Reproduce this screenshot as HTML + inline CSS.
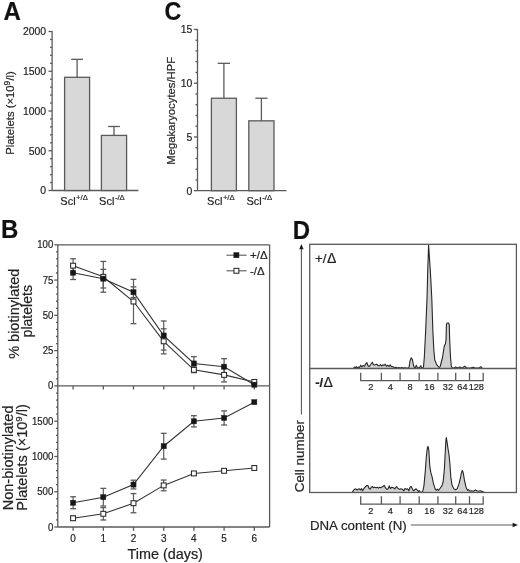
<!DOCTYPE html>
<html><head><meta charset="utf-8"><style>
html,body{margin:0;padding:0;background:#fff;}
svg{display:block;font-family:"Liberation Sans",sans-serif;filter:blur(0.3px);}
text{stroke:#2a2a2a;stroke-width:0.2px;}
</style></head><body>
<svg width="520" height="563" viewBox="0 0 520 563">
<rect width="520" height="563" fill="#fff"/>
<text transform="translate(3.50,20.10) scale(1.0,1.06)" font-size="24" text-anchor="start" font-weight="bold" fill="#111">A</text>
<line x1="52.10" y1="30.90" x2="52.10" y2="190.50" stroke="#5a5a5a" stroke-width="1.3"/>
<line x1="52.10" y1="190.50" x2="138.40" y2="190.50" stroke="#5a5a5a" stroke-width="1.3"/>
<line x1="48.50" y1="190.50" x2="52.10" y2="190.50" stroke="#5a5a5a" stroke-width="1.3"/>
<text transform="translate(46.10,194.40) scale(0.95,1.07)" font-size="11" text-anchor="end" font-weight="normal" fill="#222">0</text>
<line x1="50.10" y1="182.55" x2="52.10" y2="182.55" stroke="#5a5a5a" stroke-width="1.3"/>
<line x1="50.10" y1="174.60" x2="52.10" y2="174.60" stroke="#5a5a5a" stroke-width="1.3"/>
<line x1="50.10" y1="166.65" x2="52.10" y2="166.65" stroke="#5a5a5a" stroke-width="1.3"/>
<line x1="50.10" y1="158.70" x2="52.10" y2="158.70" stroke="#5a5a5a" stroke-width="1.3"/>
<line x1="48.50" y1="150.75" x2="52.10" y2="150.75" stroke="#5a5a5a" stroke-width="1.3"/>
<text transform="translate(46.10,154.65) scale(0.95,1.07)" font-size="11" text-anchor="end" font-weight="normal" fill="#222">500</text>
<line x1="50.10" y1="142.80" x2="52.10" y2="142.80" stroke="#5a5a5a" stroke-width="1.3"/>
<line x1="50.10" y1="134.85" x2="52.10" y2="134.85" stroke="#5a5a5a" stroke-width="1.3"/>
<line x1="50.10" y1="126.90" x2="52.10" y2="126.90" stroke="#5a5a5a" stroke-width="1.3"/>
<line x1="50.10" y1="118.95" x2="52.10" y2="118.95" stroke="#5a5a5a" stroke-width="1.3"/>
<line x1="48.50" y1="111.00" x2="52.10" y2="111.00" stroke="#5a5a5a" stroke-width="1.3"/>
<text transform="translate(46.10,114.90) scale(0.95,1.07)" font-size="11" text-anchor="end" font-weight="normal" fill="#222">1000</text>
<line x1="50.10" y1="103.05" x2="52.10" y2="103.05" stroke="#5a5a5a" stroke-width="1.3"/>
<line x1="50.10" y1="95.10" x2="52.10" y2="95.10" stroke="#5a5a5a" stroke-width="1.3"/>
<line x1="50.10" y1="87.15" x2="52.10" y2="87.15" stroke="#5a5a5a" stroke-width="1.3"/>
<line x1="50.10" y1="79.20" x2="52.10" y2="79.20" stroke="#5a5a5a" stroke-width="1.3"/>
<line x1="48.50" y1="71.25" x2="52.10" y2="71.25" stroke="#5a5a5a" stroke-width="1.3"/>
<text transform="translate(46.10,75.15) scale(0.95,1.07)" font-size="11" text-anchor="end" font-weight="normal" fill="#222">1500</text>
<line x1="50.10" y1="63.30" x2="52.10" y2="63.30" stroke="#5a5a5a" stroke-width="1.3"/>
<line x1="50.10" y1="55.35" x2="52.10" y2="55.35" stroke="#5a5a5a" stroke-width="1.3"/>
<line x1="50.10" y1="47.40" x2="52.10" y2="47.40" stroke="#5a5a5a" stroke-width="1.3"/>
<line x1="50.10" y1="39.45" x2="52.10" y2="39.45" stroke="#5a5a5a" stroke-width="1.3"/>
<line x1="48.50" y1="31.50" x2="52.10" y2="31.50" stroke="#5a5a5a" stroke-width="1.3"/>
<text transform="translate(46.10,35.40) scale(0.95,1.07)" font-size="11" text-anchor="end" font-weight="normal" fill="#222">2000</text>
<line x1="77.10" y1="77.29" x2="77.10" y2="59.32" stroke="#5a5a5a" stroke-width="1.3"/>
<line x1="71.20" y1="59.32" x2="83.00" y2="59.32" stroke="#5a5a5a" stroke-width="1.3"/>
<rect x="64.60" y="77.29" width="25.00" height="113.21" fill="#d8d8d8" stroke="#5a5a5a" stroke-width="1.3"/>
<line x1="114.00" y1="135.41" x2="114.00" y2="126.50" stroke="#5a5a5a" stroke-width="1.3"/>
<line x1="108.10" y1="126.50" x2="119.90" y2="126.50" stroke="#5a5a5a" stroke-width="1.3"/>
<rect x="101.40" y="135.41" width="25.20" height="55.09" fill="#d8d8d8" stroke="#5a5a5a" stroke-width="1.3"/>
<text transform="translate(14.0,113) rotate(-90)" font-size="11.3" text-anchor="middle" fill="#222">Platelets (×10<tspan font-size="8.5" dy="-3.8">9</tspan><tspan dy="3.8">/l)</tspan></text>
<text x="60.30" y="204.6" font-size="11" fill="#222">Scl<tspan font-size="7.7" dx="0.5" dy="-4.6">+/Δ</tspan></text>
<text x="99.10" y="204.6" font-size="11" fill="#222">Scl<tspan font-size="7.7" dx="0.5" dy="-4.6">-/Δ</tspan></text>
<text transform="translate(164.40,19.90) scale(0.97,1.06)" font-size="24" text-anchor="start" font-weight="bold" fill="#111">C</text>
<line x1="197.50" y1="28.85" x2="197.50" y2="190.70" stroke="#5a5a5a" stroke-width="1.3"/>
<line x1="197.50" y1="190.70" x2="286.50" y2="190.70" stroke="#5a5a5a" stroke-width="1.3"/>
<line x1="193.90" y1="190.70" x2="197.50" y2="190.70" stroke="#5a5a5a" stroke-width="1.3"/>
<text transform="translate(192.40,194.60) scale(0.95,1.07)" font-size="11" text-anchor="end" font-weight="normal" fill="#222">0</text>
<line x1="195.50" y1="179.95" x2="197.50" y2="179.95" stroke="#5a5a5a" stroke-width="1.3"/>
<line x1="195.50" y1="169.20" x2="197.50" y2="169.20" stroke="#5a5a5a" stroke-width="1.3"/>
<line x1="195.50" y1="158.45" x2="197.50" y2="158.45" stroke="#5a5a5a" stroke-width="1.3"/>
<line x1="195.50" y1="147.70" x2="197.50" y2="147.70" stroke="#5a5a5a" stroke-width="1.3"/>
<line x1="193.90" y1="136.95" x2="197.50" y2="136.95" stroke="#5a5a5a" stroke-width="1.3"/>
<text transform="translate(192.40,140.85) scale(0.95,1.07)" font-size="11" text-anchor="end" font-weight="normal" fill="#222">5</text>
<line x1="195.50" y1="126.20" x2="197.50" y2="126.20" stroke="#5a5a5a" stroke-width="1.3"/>
<line x1="195.50" y1="115.45" x2="197.50" y2="115.45" stroke="#5a5a5a" stroke-width="1.3"/>
<line x1="195.50" y1="104.70" x2="197.50" y2="104.70" stroke="#5a5a5a" stroke-width="1.3"/>
<line x1="195.50" y1="93.95" x2="197.50" y2="93.95" stroke="#5a5a5a" stroke-width="1.3"/>
<line x1="193.90" y1="83.20" x2="197.50" y2="83.20" stroke="#5a5a5a" stroke-width="1.3"/>
<text transform="translate(192.40,87.10) scale(0.95,1.07)" font-size="11" text-anchor="end" font-weight="normal" fill="#222">10</text>
<line x1="195.50" y1="72.45" x2="197.50" y2="72.45" stroke="#5a5a5a" stroke-width="1.3"/>
<line x1="195.50" y1="61.70" x2="197.50" y2="61.70" stroke="#5a5a5a" stroke-width="1.3"/>
<line x1="195.50" y1="50.95" x2="197.50" y2="50.95" stroke="#5a5a5a" stroke-width="1.3"/>
<line x1="195.50" y1="40.20" x2="197.50" y2="40.20" stroke="#5a5a5a" stroke-width="1.3"/>
<line x1="193.90" y1="29.45" x2="197.50" y2="29.45" stroke="#5a5a5a" stroke-width="1.3"/>
<text transform="translate(192.40,33.35) scale(0.95,1.07)" font-size="11" text-anchor="end" font-weight="normal" fill="#222">15</text>
<line x1="223.90" y1="98.25" x2="223.90" y2="63.31" stroke="#5a5a5a" stroke-width="1.3"/>
<line x1="217.70" y1="63.31" x2="230.10" y2="63.31" stroke="#5a5a5a" stroke-width="1.3"/>
<rect x="211.40" y="98.25" width="25.00" height="92.45" fill="#d8d8d8" stroke="#5a5a5a" stroke-width="1.3"/>
<line x1="261.40" y1="120.82" x2="261.40" y2="98.25" stroke="#5a5a5a" stroke-width="1.3"/>
<line x1="255.30" y1="98.25" x2="267.50" y2="98.25" stroke="#5a5a5a" stroke-width="1.3"/>
<rect x="248.80" y="120.82" width="25.20" height="69.88" fill="#d8d8d8" stroke="#5a5a5a" stroke-width="1.3"/>
<text transform="translate(175.3,110.8) rotate(-90)" font-size="11.3" text-anchor="middle" fill="#222">Megakaryocytes/HPF</text>
<text x="207.10" y="204.6" font-size="11" fill="#222">Scl<tspan font-size="7.7" dx="0.5" dy="-4.6">+/Δ</tspan></text>
<text x="246.50" y="204.6" font-size="11" fill="#222">Scl<tspan font-size="7.7" dx="0.5" dy="-4.6">-/Δ</tspan></text>
<text transform="translate(0.90,238.40) scale(1.0,1.07)" font-size="24" text-anchor="start" font-weight="bold" fill="#111">B</text>
<line x1="57.80" y1="244.80" x2="269.60" y2="244.80" stroke="#5a5a5a" stroke-width="1.3"/>
<line x1="269.60" y1="244.80" x2="269.60" y2="527.00" stroke="#5a5a5a" stroke-width="1.3"/>
<line x1="57.80" y1="244.80" x2="57.80" y2="527.00" stroke="#5a5a5a" stroke-width="1.3"/>
<line x1="57.80" y1="385.90" x2="269.60" y2="385.90" stroke="#5a5a5a" stroke-width="1.3"/>
<line x1="57.80" y1="527.00" x2="269.60" y2="527.00" stroke="#5a5a5a" stroke-width="1.3"/>
<line x1="54.30" y1="385.90" x2="57.80" y2="385.90" stroke="#5a5a5a" stroke-width="1.3"/>
<text transform="translate(53.30,389.40) scale(1.0,1.1)" font-size="9.6" text-anchor="end" font-weight="normal" fill="#222">0</text>
<line x1="56.00" y1="378.84" x2="57.80" y2="378.84" stroke="#5a5a5a" stroke-width="1.3"/>
<line x1="56.00" y1="371.79" x2="57.80" y2="371.79" stroke="#5a5a5a" stroke-width="1.3"/>
<line x1="56.00" y1="364.74" x2="57.80" y2="364.74" stroke="#5a5a5a" stroke-width="1.3"/>
<line x1="56.00" y1="357.68" x2="57.80" y2="357.68" stroke="#5a5a5a" stroke-width="1.3"/>
<line x1="54.30" y1="350.62" x2="57.80" y2="350.62" stroke="#5a5a5a" stroke-width="1.3"/>
<text transform="translate(53.30,354.12) scale(1.0,1.1)" font-size="9.6" text-anchor="end" font-weight="normal" fill="#222">25</text>
<line x1="56.00" y1="343.57" x2="57.80" y2="343.57" stroke="#5a5a5a" stroke-width="1.3"/>
<line x1="56.00" y1="336.51" x2="57.80" y2="336.51" stroke="#5a5a5a" stroke-width="1.3"/>
<line x1="56.00" y1="329.46" x2="57.80" y2="329.46" stroke="#5a5a5a" stroke-width="1.3"/>
<line x1="56.00" y1="322.40" x2="57.80" y2="322.40" stroke="#5a5a5a" stroke-width="1.3"/>
<line x1="54.30" y1="315.35" x2="57.80" y2="315.35" stroke="#5a5a5a" stroke-width="1.3"/>
<text transform="translate(53.30,318.85) scale(1.0,1.1)" font-size="9.6" text-anchor="end" font-weight="normal" fill="#222">50</text>
<line x1="56.00" y1="308.30" x2="57.80" y2="308.30" stroke="#5a5a5a" stroke-width="1.3"/>
<line x1="56.00" y1="301.24" x2="57.80" y2="301.24" stroke="#5a5a5a" stroke-width="1.3"/>
<line x1="56.00" y1="294.19" x2="57.80" y2="294.19" stroke="#5a5a5a" stroke-width="1.3"/>
<line x1="56.00" y1="287.13" x2="57.80" y2="287.13" stroke="#5a5a5a" stroke-width="1.3"/>
<line x1="54.30" y1="280.07" x2="57.80" y2="280.07" stroke="#5a5a5a" stroke-width="1.3"/>
<text transform="translate(53.30,283.57) scale(1.0,1.1)" font-size="9.6" text-anchor="end" font-weight="normal" fill="#222">75</text>
<line x1="56.00" y1="273.02" x2="57.80" y2="273.02" stroke="#5a5a5a" stroke-width="1.3"/>
<line x1="56.00" y1="265.97" x2="57.80" y2="265.97" stroke="#5a5a5a" stroke-width="1.3"/>
<line x1="56.00" y1="258.91" x2="57.80" y2="258.91" stroke="#5a5a5a" stroke-width="1.3"/>
<line x1="56.00" y1="251.86" x2="57.80" y2="251.86" stroke="#5a5a5a" stroke-width="1.3"/>
<line x1="54.30" y1="244.80" x2="57.80" y2="244.80" stroke="#5a5a5a" stroke-width="1.3"/>
<text transform="translate(53.30,248.30) scale(1.0,1.1)" font-size="9.6" text-anchor="end" font-weight="normal" fill="#222">100</text>
<line x1="54.30" y1="527.00" x2="57.80" y2="527.00" stroke="#5a5a5a" stroke-width="1.3"/>
<text transform="translate(53.30,530.50) scale(1.0,1.1)" font-size="9.6" text-anchor="end" font-weight="normal" fill="#222">0</text>
<line x1="56.00" y1="519.95" x2="57.80" y2="519.95" stroke="#5a5a5a" stroke-width="1.3"/>
<line x1="56.00" y1="512.90" x2="57.80" y2="512.90" stroke="#5a5a5a" stroke-width="1.3"/>
<line x1="56.00" y1="505.85" x2="57.80" y2="505.85" stroke="#5a5a5a" stroke-width="1.3"/>
<line x1="56.00" y1="498.80" x2="57.80" y2="498.80" stroke="#5a5a5a" stroke-width="1.3"/>
<line x1="54.30" y1="491.75" x2="57.80" y2="491.75" stroke="#5a5a5a" stroke-width="1.3"/>
<text transform="translate(53.30,495.25) scale(1.0,1.1)" font-size="9.6" text-anchor="end" font-weight="normal" fill="#222">500</text>
<line x1="56.00" y1="484.70" x2="57.80" y2="484.70" stroke="#5a5a5a" stroke-width="1.3"/>
<line x1="56.00" y1="477.65" x2="57.80" y2="477.65" stroke="#5a5a5a" stroke-width="1.3"/>
<line x1="56.00" y1="470.60" x2="57.80" y2="470.60" stroke="#5a5a5a" stroke-width="1.3"/>
<line x1="56.00" y1="463.55" x2="57.80" y2="463.55" stroke="#5a5a5a" stroke-width="1.3"/>
<line x1="54.30" y1="456.50" x2="57.80" y2="456.50" stroke="#5a5a5a" stroke-width="1.3"/>
<text transform="translate(53.30,460.00) scale(1.0,1.1)" font-size="9.6" text-anchor="end" font-weight="normal" fill="#222">1000</text>
<line x1="56.00" y1="449.45" x2="57.80" y2="449.45" stroke="#5a5a5a" stroke-width="1.3"/>
<line x1="56.00" y1="442.40" x2="57.80" y2="442.40" stroke="#5a5a5a" stroke-width="1.3"/>
<line x1="56.00" y1="435.35" x2="57.80" y2="435.35" stroke="#5a5a5a" stroke-width="1.3"/>
<line x1="56.00" y1="428.30" x2="57.80" y2="428.30" stroke="#5a5a5a" stroke-width="1.3"/>
<line x1="54.30" y1="421.25" x2="57.80" y2="421.25" stroke="#5a5a5a" stroke-width="1.3"/>
<text transform="translate(53.30,424.75) scale(1.0,1.1)" font-size="9.6" text-anchor="end" font-weight="normal" fill="#222">1500</text>
<line x1="56.00" y1="414.20" x2="57.80" y2="414.20" stroke="#5a5a5a" stroke-width="1.3"/>
<line x1="56.00" y1="407.15" x2="57.80" y2="407.15" stroke="#5a5a5a" stroke-width="1.3"/>
<line x1="56.00" y1="400.10" x2="57.80" y2="400.10" stroke="#5a5a5a" stroke-width="1.3"/>
<line x1="56.00" y1="393.05" x2="57.80" y2="393.05" stroke="#5a5a5a" stroke-width="1.3"/>
<line x1="73.10" y1="385.90" x2="73.10" y2="389.50" stroke="#5a5a5a" stroke-width="1.3"/>
<line x1="73.10" y1="527.00" x2="73.10" y2="530.80" stroke="#5a5a5a" stroke-width="1.3"/>
<text x="73.10" y="541.60" font-size="10" text-anchor="middle" font-weight="normal" fill="#222" >0</text>
<line x1="103.30" y1="385.90" x2="103.30" y2="389.50" stroke="#5a5a5a" stroke-width="1.3"/>
<line x1="103.30" y1="527.00" x2="103.30" y2="530.80" stroke="#5a5a5a" stroke-width="1.3"/>
<text x="103.30" y="541.60" font-size="10" text-anchor="middle" font-weight="normal" fill="#222" >1</text>
<line x1="133.50" y1="385.90" x2="133.50" y2="389.50" stroke="#5a5a5a" stroke-width="1.3"/>
<line x1="133.50" y1="527.00" x2="133.50" y2="530.80" stroke="#5a5a5a" stroke-width="1.3"/>
<text x="133.50" y="541.60" font-size="10" text-anchor="middle" font-weight="normal" fill="#222" >2</text>
<line x1="163.70" y1="385.90" x2="163.70" y2="389.50" stroke="#5a5a5a" stroke-width="1.3"/>
<line x1="163.70" y1="527.00" x2="163.70" y2="530.80" stroke="#5a5a5a" stroke-width="1.3"/>
<text x="163.70" y="541.60" font-size="10" text-anchor="middle" font-weight="normal" fill="#222" >3</text>
<line x1="193.90" y1="385.90" x2="193.90" y2="389.50" stroke="#5a5a5a" stroke-width="1.3"/>
<line x1="193.90" y1="527.00" x2="193.90" y2="530.80" stroke="#5a5a5a" stroke-width="1.3"/>
<text x="193.90" y="541.60" font-size="10" text-anchor="middle" font-weight="normal" fill="#222" >4</text>
<line x1="224.10" y1="385.90" x2="224.10" y2="389.50" stroke="#5a5a5a" stroke-width="1.3"/>
<line x1="224.10" y1="527.00" x2="224.10" y2="530.80" stroke="#5a5a5a" stroke-width="1.3"/>
<text x="224.10" y="541.60" font-size="10" text-anchor="middle" font-weight="normal" fill="#222" >5</text>
<line x1="254.30" y1="385.90" x2="254.30" y2="389.50" stroke="#5a5a5a" stroke-width="1.3"/>
<line x1="254.30" y1="527.00" x2="254.30" y2="530.80" stroke="#5a5a5a" stroke-width="1.3"/>
<text x="254.30" y="541.60" font-size="10" text-anchor="middle" font-weight="normal" fill="#222" >6</text>
<text x="165.20" y="558.60" font-size="14.4" text-anchor="middle" font-weight="normal" fill="#222" >Time (days)</text>
<text transform="translate(18.5,313.7) rotate(-90)" font-size="14.5" text-anchor="middle" fill="#222">% biotinylated</text>
<text transform="translate(32.2,311.2) rotate(-90)" font-size="14.1" text-anchor="middle" fill="#222">platelets</text>
<text transform="translate(13.1,457.9) rotate(-90)" font-size="14.5" text-anchor="middle" fill="#222">Non-biotinylated</text>
<text transform="translate(27.3,457.5) rotate(-90)" font-size="14.5" text-anchor="middle" fill="#222">Platelets (×10<tspan font-size="9.6" dy="-5">9</tspan><tspan dy="5">/l)</tspan></text>
<line x1="73.10" y1="258.77" x2="73.10" y2="272.60" stroke="#5a5a5a" stroke-width="1.2"/>
<line x1="70.20" y1="258.77" x2="76.00" y2="258.77" stroke="#5a5a5a" stroke-width="1.3"/>
<line x1="70.20" y1="272.60" x2="76.00" y2="272.60" stroke="#5a5a5a" stroke-width="1.3"/>
<line x1="103.30" y1="261.45" x2="103.30" y2="292.21" stroke="#5a5a5a" stroke-width="1.2"/>
<line x1="100.40" y1="261.45" x2="106.20" y2="261.45" stroke="#5a5a5a" stroke-width="1.3"/>
<line x1="100.40" y1="292.21" x2="106.20" y2="292.21" stroke="#5a5a5a" stroke-width="1.3"/>
<line x1="133.50" y1="279.37" x2="133.50" y2="323.67" stroke="#5a5a5a" stroke-width="1.2"/>
<line x1="130.60" y1="279.37" x2="136.40" y2="279.37" stroke="#5a5a5a" stroke-width="1.3"/>
<line x1="130.60" y1="323.67" x2="136.40" y2="323.67" stroke="#5a5a5a" stroke-width="1.3"/>
<line x1="163.70" y1="328.75" x2="163.70" y2="353.87" stroke="#5a5a5a" stroke-width="1.2"/>
<line x1="160.80" y1="328.75" x2="166.60" y2="328.75" stroke="#5a5a5a" stroke-width="1.3"/>
<line x1="160.80" y1="353.87" x2="166.60" y2="353.87" stroke="#5a5a5a" stroke-width="1.3"/>
<line x1="193.90" y1="366.99" x2="193.90" y2="372.64" stroke="#5a5a5a" stroke-width="1.2"/>
<line x1="191.00" y1="366.99" x2="196.80" y2="366.99" stroke="#5a5a5a" stroke-width="1.3"/>
<line x1="191.00" y1="372.64" x2="196.80" y2="372.64" stroke="#5a5a5a" stroke-width="1.3"/>
<line x1="224.10" y1="367.84" x2="224.10" y2="381.95" stroke="#5a5a5a" stroke-width="1.2"/>
<line x1="221.20" y1="367.84" x2="227.00" y2="367.84" stroke="#5a5a5a" stroke-width="1.3"/>
<line x1="221.20" y1="381.95" x2="227.00" y2="381.95" stroke="#5a5a5a" stroke-width="1.3"/>
<line x1="73.10" y1="265.97" x2="73.10" y2="279.51" stroke="#5a5a5a" stroke-width="1.2"/>
<line x1="70.20" y1="265.97" x2="76.00" y2="265.97" stroke="#5a5a5a" stroke-width="1.3"/>
<line x1="70.20" y1="279.51" x2="76.00" y2="279.51" stroke="#5a5a5a" stroke-width="1.3"/>
<line x1="103.30" y1="269.35" x2="103.30" y2="287.98" stroke="#5a5a5a" stroke-width="1.2"/>
<line x1="100.40" y1="269.35" x2="106.20" y2="269.35" stroke="#5a5a5a" stroke-width="1.3"/>
<line x1="100.40" y1="287.98" x2="106.20" y2="287.98" stroke="#5a5a5a" stroke-width="1.3"/>
<line x1="133.50" y1="286.85" x2="133.50" y2="297.57" stroke="#5a5a5a" stroke-width="1.2"/>
<line x1="130.60" y1="286.85" x2="136.40" y2="286.85" stroke="#5a5a5a" stroke-width="1.3"/>
<line x1="130.60" y1="297.57" x2="136.40" y2="297.57" stroke="#5a5a5a" stroke-width="1.3"/>
<line x1="163.70" y1="320.99" x2="163.70" y2="350.06" stroke="#5a5a5a" stroke-width="1.2"/>
<line x1="160.80" y1="320.99" x2="166.60" y2="320.99" stroke="#5a5a5a" stroke-width="1.3"/>
<line x1="160.80" y1="350.06" x2="166.60" y2="350.06" stroke="#5a5a5a" stroke-width="1.3"/>
<line x1="193.90" y1="356.69" x2="193.90" y2="370.24" stroke="#5a5a5a" stroke-width="1.2"/>
<line x1="191.00" y1="356.69" x2="196.80" y2="356.69" stroke="#5a5a5a" stroke-width="1.3"/>
<line x1="191.00" y1="370.24" x2="196.80" y2="370.24" stroke="#5a5a5a" stroke-width="1.3"/>
<line x1="224.10" y1="358.67" x2="224.10" y2="374.75" stroke="#5a5a5a" stroke-width="1.2"/>
<line x1="221.20" y1="358.67" x2="227.00" y2="358.67" stroke="#5a5a5a" stroke-width="1.3"/>
<line x1="221.20" y1="374.75" x2="227.00" y2="374.75" stroke="#5a5a5a" stroke-width="1.3"/>
<line x1="73.10" y1="516.14" x2="73.10" y2="520.37" stroke="#5a5a5a" stroke-width="1.2"/>
<line x1="70.20" y1="516.14" x2="76.00" y2="516.14" stroke="#5a5a5a" stroke-width="1.3"/>
<line x1="70.20" y1="520.37" x2="76.00" y2="520.37" stroke="#5a5a5a" stroke-width="1.3"/>
<line x1="103.30" y1="507.58" x2="103.30" y2="519.99" stroke="#5a5a5a" stroke-width="1.2"/>
<line x1="100.40" y1="507.58" x2="106.20" y2="507.58" stroke="#5a5a5a" stroke-width="1.3"/>
<line x1="100.40" y1="519.99" x2="106.20" y2="519.99" stroke="#5a5a5a" stroke-width="1.3"/>
<line x1="133.50" y1="493.58" x2="133.50" y2="512.76" stroke="#5a5a5a" stroke-width="1.2"/>
<line x1="130.60" y1="493.58" x2="136.40" y2="493.58" stroke="#5a5a5a" stroke-width="1.3"/>
<line x1="130.60" y1="512.76" x2="136.40" y2="512.76" stroke="#5a5a5a" stroke-width="1.3"/>
<line x1="163.70" y1="480.05" x2="163.70" y2="490.76" stroke="#5a5a5a" stroke-width="1.2"/>
<line x1="160.80" y1="480.05" x2="166.60" y2="480.05" stroke="#5a5a5a" stroke-width="1.3"/>
<line x1="160.80" y1="490.76" x2="166.60" y2="490.76" stroke="#5a5a5a" stroke-width="1.3"/>
<line x1="193.90" y1="472.01" x2="193.90" y2="474.83" stroke="#5a5a5a" stroke-width="1.2"/>
<line x1="191.00" y1="472.01" x2="196.80" y2="472.01" stroke="#5a5a5a" stroke-width="1.3"/>
<line x1="191.00" y1="474.83" x2="196.80" y2="474.83" stroke="#5a5a5a" stroke-width="1.3"/>
<line x1="224.10" y1="469.40" x2="224.10" y2="472.22" stroke="#5a5a5a" stroke-width="1.2"/>
<line x1="221.20" y1="469.40" x2="227.00" y2="469.40" stroke="#5a5a5a" stroke-width="1.3"/>
<line x1="221.20" y1="472.22" x2="227.00" y2="472.22" stroke="#5a5a5a" stroke-width="1.3"/>
<line x1="73.10" y1="496.76" x2="73.10" y2="508.74" stroke="#5a5a5a" stroke-width="1.2"/>
<line x1="70.20" y1="496.76" x2="76.00" y2="496.76" stroke="#5a5a5a" stroke-width="1.3"/>
<line x1="70.20" y1="508.74" x2="76.00" y2="508.74" stroke="#5a5a5a" stroke-width="1.3"/>
<line x1="103.30" y1="488.37" x2="103.30" y2="505.99" stroke="#5a5a5a" stroke-width="1.2"/>
<line x1="100.40" y1="488.37" x2="106.20" y2="488.37" stroke="#5a5a5a" stroke-width="1.3"/>
<line x1="100.40" y1="505.99" x2="106.20" y2="505.99" stroke="#5a5a5a" stroke-width="1.3"/>
<line x1="133.50" y1="480.19" x2="133.50" y2="488.93" stroke="#5a5a5a" stroke-width="1.2"/>
<line x1="130.60" y1="480.19" x2="136.40" y2="480.19" stroke="#5a5a5a" stroke-width="1.3"/>
<line x1="130.60" y1="488.93" x2="136.40" y2="488.93" stroke="#5a5a5a" stroke-width="1.3"/>
<line x1="163.70" y1="433.31" x2="163.70" y2="459.11" stroke="#5a5a5a" stroke-width="1.2"/>
<line x1="160.80" y1="433.31" x2="166.60" y2="433.31" stroke="#5a5a5a" stroke-width="1.3"/>
<line x1="160.80" y1="459.11" x2="166.60" y2="459.11" stroke="#5a5a5a" stroke-width="1.3"/>
<line x1="193.90" y1="415.68" x2="193.90" y2="426.96" stroke="#5a5a5a" stroke-width="1.2"/>
<line x1="191.00" y1="415.68" x2="196.80" y2="415.68" stroke="#5a5a5a" stroke-width="1.3"/>
<line x1="191.00" y1="426.96" x2="196.80" y2="426.96" stroke="#5a5a5a" stroke-width="1.3"/>
<line x1="224.10" y1="410.89" x2="224.10" y2="424.99" stroke="#5a5a5a" stroke-width="1.2"/>
<line x1="221.20" y1="410.89" x2="227.00" y2="410.89" stroke="#5a5a5a" stroke-width="1.3"/>
<line x1="221.20" y1="424.99" x2="227.00" y2="424.99" stroke="#5a5a5a" stroke-width="1.3"/>
<polyline points="73.10,265.68 103.30,276.83 133.50,301.52 163.70,341.31 193.90,369.81 224.10,374.89 254.30,381.95" fill="none" stroke="#333" stroke-width="1.1"/>
<polyline points="73.10,272.74 103.30,278.66 133.50,292.21 163.70,335.53 193.90,363.47 224.10,366.71 254.30,384.70" fill="none" stroke="#333" stroke-width="1.1"/>
<polyline points="73.10,518.26 103.30,513.78 133.50,503.17 163.70,485.40 193.90,473.42 224.10,470.81 254.30,467.99" fill="none" stroke="#333" stroke-width="1.1"/>
<polyline points="73.10,502.75 103.30,497.18 133.50,484.56 163.70,446.21 193.90,421.32 224.10,417.94 254.30,402.14" fill="none" stroke="#333" stroke-width="1.1"/>
<rect x="70.65" y="263.23" width="4.9" height="4.9" fill="#fff" stroke="#2a2a2a" stroke-width="1.05"/>
<rect x="100.85" y="274.38" width="4.9" height="4.9" fill="#fff" stroke="#2a2a2a" stroke-width="1.05"/>
<rect x="131.05" y="299.07" width="4.9" height="4.9" fill="#fff" stroke="#2a2a2a" stroke-width="1.05"/>
<rect x="161.25" y="338.86" width="4.9" height="4.9" fill="#fff" stroke="#2a2a2a" stroke-width="1.05"/>
<rect x="191.45" y="367.36" width="4.9" height="4.9" fill="#fff" stroke="#2a2a2a" stroke-width="1.05"/>
<rect x="221.65" y="372.44" width="4.9" height="4.9" fill="#fff" stroke="#2a2a2a" stroke-width="1.05"/>
<rect x="251.85" y="379.50" width="4.9" height="4.9" fill="#fff" stroke="#2a2a2a" stroke-width="1.05"/>
<rect x="70.55" y="270.19" width="5.1" height="5.1" fill="#161616" stroke="#222" stroke-width="0.5"/>
<rect x="100.75" y="276.11" width="5.1" height="5.1" fill="#161616" stroke="#222" stroke-width="0.5"/>
<rect x="130.95" y="289.66" width="5.1" height="5.1" fill="#161616" stroke="#222" stroke-width="0.5"/>
<rect x="161.15" y="332.98" width="5.1" height="5.1" fill="#161616" stroke="#222" stroke-width="0.5"/>
<rect x="191.35" y="360.92" width="5.1" height="5.1" fill="#161616" stroke="#222" stroke-width="0.5"/>
<rect x="221.55" y="364.16" width="5.1" height="5.1" fill="#161616" stroke="#222" stroke-width="0.5"/>
<rect x="251.75" y="382.15" width="5.1" height="5.1" fill="#161616" stroke="#222" stroke-width="0.5"/>
<rect x="70.65" y="515.81" width="4.9" height="4.9" fill="#fff" stroke="#2a2a2a" stroke-width="1.05"/>
<rect x="100.85" y="511.33" width="4.9" height="4.9" fill="#fff" stroke="#2a2a2a" stroke-width="1.05"/>
<rect x="131.05" y="500.72" width="4.9" height="4.9" fill="#fff" stroke="#2a2a2a" stroke-width="1.05"/>
<rect x="161.25" y="482.95" width="4.9" height="4.9" fill="#fff" stroke="#2a2a2a" stroke-width="1.05"/>
<rect x="191.45" y="470.97" width="4.9" height="4.9" fill="#fff" stroke="#2a2a2a" stroke-width="1.05"/>
<rect x="221.65" y="468.36" width="4.9" height="4.9" fill="#fff" stroke="#2a2a2a" stroke-width="1.05"/>
<rect x="251.85" y="465.54" width="4.9" height="4.9" fill="#fff" stroke="#2a2a2a" stroke-width="1.05"/>
<rect x="70.55" y="500.20" width="5.1" height="5.1" fill="#161616" stroke="#222" stroke-width="0.5"/>
<rect x="100.75" y="494.63" width="5.1" height="5.1" fill="#161616" stroke="#222" stroke-width="0.5"/>
<rect x="130.95" y="482.01" width="5.1" height="5.1" fill="#161616" stroke="#222" stroke-width="0.5"/>
<rect x="161.15" y="443.66" width="5.1" height="5.1" fill="#161616" stroke="#222" stroke-width="0.5"/>
<rect x="191.35" y="418.77" width="5.1" height="5.1" fill="#161616" stroke="#222" stroke-width="0.5"/>
<rect x="221.55" y="415.39" width="5.1" height="5.1" fill="#161616" stroke="#222" stroke-width="0.5"/>
<rect x="251.75" y="399.59" width="5.1" height="5.1" fill="#161616" stroke="#222" stroke-width="0.5"/>
<line x1="226.50" y1="255.20" x2="246.60" y2="255.20" stroke="#5a5a5a" stroke-width="1.1"/>
<rect x="233.85" y="252.65" width="5.1" height="5.1" fill="#161616" stroke="#222" stroke-width="0.5"/>
<text x="250.00" y="259.30" font-size="11.5" text-anchor="start" font-weight="normal" fill="#222" >+/Δ</text>
<line x1="226.50" y1="270.80" x2="246.60" y2="270.80" stroke="#5a5a5a" stroke-width="1.1"/>
<rect x="233.95" y="268.35" width="4.9" height="4.9" fill="#fff" stroke="#2a2a2a" stroke-width="1.05"/>
<text x="250.00" y="274.90" font-size="11.5" text-anchor="start" font-weight="normal" fill="#222" >-/Δ</text>
<text transform="translate(292.80,238.50) scale(1.0,1.06)" font-size="24" text-anchor="start" font-weight="bold" fill="#111">D</text>
<line x1="301.40" y1="414.50" x2="301.40" y2="248.00" stroke="#5a5a5a" stroke-width="1.1"/>
<path d="M301.4,243.9 L299.2,249.2 L303.6,249.2 Z" fill="#1a1a1a"/>
<text transform="translate(304.4,456.2) rotate(-90)" font-size="13.4" text-anchor="middle" fill="#222">Cell number</text>
<text x="309.90" y="529.60" font-size="13.3" text-anchor="start" font-weight="normal" fill="#222" >DNA content (N)</text>
<line x1="410.80" y1="525.00" x2="513.50" y2="525.00" stroke="#5a5a5a" stroke-width="1.2"/>
<path d="M518.0,525 L512.6,522.8 L512.6,527.2 Z" fill="#1a1a1a"/>
<text x="315.0" y="262.8" font-size="13.2" fill="#222">+/<tspan dx="0.5" font-size="14">Δ</tspan></text>
<text x="315.2" y="387.2" font-size="13.2" fill="#222" font-weight="bold">-/<tspan dx="0.3" font-size="14" font-weight="normal">Δ</tspan></text>
<line x1="360.20" y1="380.70" x2="483.70" y2="380.70" stroke="#5a5a5a" stroke-width="1.3"/>
<line x1="360.70" y1="372.70" x2="360.70" y2="380.70" stroke="#5a5a5a" stroke-width="1.3"/>
<line x1="381.40" y1="372.70" x2="381.40" y2="380.70" stroke="#5a5a5a" stroke-width="1.3"/>
<line x1="400.10" y1="372.70" x2="400.10" y2="380.70" stroke="#5a5a5a" stroke-width="1.3"/>
<line x1="419.20" y1="372.70" x2="419.20" y2="380.70" stroke="#5a5a5a" stroke-width="1.3"/>
<line x1="437.90" y1="372.70" x2="437.90" y2="380.70" stroke="#5a5a5a" stroke-width="1.3"/>
<line x1="455.70" y1="372.70" x2="455.70" y2="380.70" stroke="#5a5a5a" stroke-width="1.3"/>
<line x1="469.50" y1="372.70" x2="469.50" y2="380.70" stroke="#5a5a5a" stroke-width="1.3"/>
<line x1="483.20" y1="372.70" x2="483.20" y2="380.70" stroke="#5a5a5a" stroke-width="1.3"/>
<text x="370.90" y="389.60" font-size="9.2" text-anchor="middle" font-weight="normal" fill="#222" >2</text>
<text x="390.40" y="389.60" font-size="9.2" text-anchor="middle" font-weight="normal" fill="#222" >4</text>
<text x="410.00" y="389.60" font-size="9.2" text-anchor="middle" font-weight="normal" fill="#222" >8</text>
<text x="429.40" y="389.60" font-size="9.2" text-anchor="middle" font-weight="normal" fill="#222" >16</text>
<text x="447.90" y="389.60" font-size="9.2" text-anchor="middle" font-weight="normal" fill="#222" >32</text>
<text x="462.40" y="389.60" font-size="9.2" text-anchor="middle" font-weight="normal" fill="#222" >64</text>
<text x="476.30" y="389.60" font-size="9.2" text-anchor="middle" font-weight="normal" fill="#222" >128</text>
<line x1="360.20" y1="504.20" x2="483.70" y2="504.20" stroke="#5a5a5a" stroke-width="1.3"/>
<line x1="360.70" y1="496.20" x2="360.70" y2="504.20" stroke="#5a5a5a" stroke-width="1.3"/>
<line x1="381.40" y1="496.20" x2="381.40" y2="504.20" stroke="#5a5a5a" stroke-width="1.3"/>
<line x1="400.10" y1="496.20" x2="400.10" y2="504.20" stroke="#5a5a5a" stroke-width="1.3"/>
<line x1="419.20" y1="496.20" x2="419.20" y2="504.20" stroke="#5a5a5a" stroke-width="1.3"/>
<line x1="437.90" y1="496.20" x2="437.90" y2="504.20" stroke="#5a5a5a" stroke-width="1.3"/>
<line x1="455.70" y1="496.20" x2="455.70" y2="504.20" stroke="#5a5a5a" stroke-width="1.3"/>
<line x1="469.50" y1="496.20" x2="469.50" y2="504.20" stroke="#5a5a5a" stroke-width="1.3"/>
<line x1="483.20" y1="496.20" x2="483.20" y2="504.20" stroke="#5a5a5a" stroke-width="1.3"/>
<text x="370.90" y="513.50" font-size="9.2" text-anchor="middle" font-weight="normal" fill="#222" >2</text>
<text x="390.40" y="513.50" font-size="9.2" text-anchor="middle" font-weight="normal" fill="#222" >4</text>
<text x="410.00" y="513.50" font-size="9.2" text-anchor="middle" font-weight="normal" fill="#222" >8</text>
<text x="429.40" y="513.50" font-size="9.2" text-anchor="middle" font-weight="normal" fill="#222" >16</text>
<text x="447.90" y="513.50" font-size="9.2" text-anchor="middle" font-weight="normal" fill="#222" >32</text>
<text x="462.40" y="513.50" font-size="9.2" text-anchor="middle" font-weight="normal" fill="#222" >64</text>
<text x="476.30" y="513.50" font-size="9.2" text-anchor="middle" font-weight="normal" fill="#222" >128</text>
<polygon points="353.50,368.5 353.50,368.40 353.80,368.00 354.60,367.20 355.50,368.00 356.20,366.60 357.50,367.80 358.50,367.00 359.50,367.60 360.80,365.20 361.80,366.80 363.00,365.50 364.50,366.30 365.50,364.20 366.90,362.70 368.00,365.80 369.20,366.50 370.50,364.80 372.30,362.20 373.50,364.80 374.60,365.00 375.80,364.50 376.90,364.20 378.00,365.60 379.20,365.80 380.50,364.60 381.50,366.00 382.80,364.80 384.00,365.50 385.20,364.20 386.50,366.20 387.80,365.20 389.00,366.50 390.20,364.80 391.50,366.80 393.00,366.60 394.50,367.80 396.00,367.20 397.70,368.00 399.00,367.60 400.50,368.10 402.00,367.40 403.50,368.00 405.00,367.70 406.50,368.10 408.50,368.00 409.20,366.50 410.00,361.00 411.30,357.70 412.50,360.00 413.50,365.50 414.50,367.80 415.50,367.50 416.20,365.30 417.00,366.80 418.00,368.00 419.50,367.60 420.80,365.80 421.60,367.80 422.80,368.00 423.50,367.00 424.30,357.50 425.60,332.00 427.00,298.50 427.70,272.00 428.60,244.80 430.40,272.00 431.80,298.50 432.90,332.00 433.90,351.00 434.80,360.00 436.70,364.60 438.70,367.00 439.30,367.50 440.20,366.50 442.50,357.50 444.30,346.00 445.50,343.50 446.10,339.00 446.40,324.50 447.20,323.00 448.60,323.00 449.30,325.00 449.60,338.00 450.50,357.50 451.40,366.80 452.50,367.80 454.00,368.00 455.60,367.00 457.50,368.00 459.90,366.90 461.50,368.00 463.00,367.50 464.70,366.20 466.50,368.00 470.00,368.00 473.40,367.20 475.00,368.10 479.00,368.00 481.00,366.80 482.20,368.20 482.20,368.5" fill="#d0d0d0" stroke="none"/>
<polyline points="353.50,368.40 353.80,368.00 354.60,367.20 355.50,368.00 356.20,366.60 357.50,367.80 358.50,367.00 359.50,367.60 360.80,365.20 361.80,366.80 363.00,365.50 364.50,366.30 365.50,364.20 366.90,362.70 368.00,365.80 369.20,366.50 370.50,364.80 372.30,362.20 373.50,364.80 374.60,365.00 375.80,364.50 376.90,364.20 378.00,365.60 379.20,365.80 380.50,364.60 381.50,366.00 382.80,364.80 384.00,365.50 385.20,364.20 386.50,366.20 387.80,365.20 389.00,366.50 390.20,364.80 391.50,366.80 393.00,366.60 394.50,367.80 396.00,367.20 397.70,368.00 399.00,367.60 400.50,368.10 402.00,367.40 403.50,368.00 405.00,367.70 406.50,368.10 408.50,368.00 409.20,366.50 410.00,361.00 411.30,357.70 412.50,360.00 413.50,365.50 414.50,367.80 415.50,367.50 416.20,365.30 417.00,366.80 418.00,368.00 419.50,367.60 420.80,365.80 421.60,367.80 422.80,368.00 423.50,367.00 424.30,357.50 425.60,332.00 427.00,298.50 427.70,272.00 428.60,244.80 430.40,272.00 431.80,298.50 432.90,332.00 433.90,351.00 434.80,360.00 436.70,364.60 438.70,367.00 439.30,367.50 440.20,366.50 442.50,357.50 444.30,346.00 445.50,343.50 446.10,339.00 446.40,324.50 447.20,323.00 448.60,323.00 449.30,325.00 449.60,338.00 450.50,357.50 451.40,366.80 452.50,367.80 454.00,368.00 455.60,367.00 457.50,368.00 459.90,366.90 461.50,368.00 463.00,367.50 464.70,366.20 466.50,368.00 470.00,368.00 473.40,367.20 475.00,368.10 479.00,368.00 481.00,366.80 482.20,368.20" fill="none" stroke="#262626" stroke-width="1.1" stroke-linejoin="round"/>
<polygon points="352.00,492.5 352.00,492.60 352.30,492.30 353.50,490.40 354.60,489.20 355.80,488.80 356.90,490.00 358.10,489.20 359.20,488.80 360.40,490.00 361.50,488.50 362.50,490.80 363.50,489.20 364.60,487.70 365.80,486.50 366.90,485.40 368.10,485.80 369.10,488.50 370.20,489.20 371.20,487.30 372.30,486.50 373.50,487.70 374.60,487.30 376.20,487.70 377.30,487.20 378.50,488.10 379.60,487.30 380.80,487.70 381.90,486.90 383.10,486.50 384.20,485.40 385.40,487.70 386.50,489.20 387.70,489.20 388.80,487.30 389.20,485.80 390.30,488.50 391.80,487.30 393.40,487.70 394.90,488.80 396.50,486.50 398.00,488.50 399.50,489.20 401.10,488.80 402.60,489.60 403.80,490.80 404.90,488.50 406.50,489.20 407.60,488.80 408.80,490.80 409.90,487.70 411.10,486.50 412.20,488.50 413.40,490.80 414.50,490.00 416.10,488.80 417.20,490.00 418.40,491.50 419.20,490.70 420.70,492.30 421.80,492.30 422.70,491.50 423.90,486.20 425.30,471.00 426.40,455.80 427.40,447.60 428.00,446.40 428.80,449.90 429.70,465.10 430.70,472.20 432.10,476.90 433.20,482.70 435.00,488.60 436.20,490.30 437.30,489.20 438.50,490.30 440.30,488.00 442.00,485.60 443.20,481.50 444.40,468.70 445.20,453.40 445.90,440.50 446.30,437.60 447.00,441.70 448.20,449.90 449.00,454.60 449.90,464.00 450.80,476.90 452.00,485.10 453.70,488.60 455.50,489.70 457.20,488.60 459.00,483.90 460.40,478.00 461.60,472.20 462.30,470.40 463.10,472.20 463.90,476.90 464.60,481.00 466.20,487.70 467.70,490.40 468.50,489.60 470.00,491.20 471.50,490.80 473.50,491.20 475.40,490.00 476.90,490.80 478.50,491.20 480.40,490.80 482.30,491.50 484.20,492.30 484.20,492.5" fill="#d0d0d0" stroke="none"/>
<polyline points="352.00,492.60 352.30,492.30 353.50,490.40 354.60,489.20 355.80,488.80 356.90,490.00 358.10,489.20 359.20,488.80 360.40,490.00 361.50,488.50 362.50,490.80 363.50,489.20 364.60,487.70 365.80,486.50 366.90,485.40 368.10,485.80 369.10,488.50 370.20,489.20 371.20,487.30 372.30,486.50 373.50,487.70 374.60,487.30 376.20,487.70 377.30,487.20 378.50,488.10 379.60,487.30 380.80,487.70 381.90,486.90 383.10,486.50 384.20,485.40 385.40,487.70 386.50,489.20 387.70,489.20 388.80,487.30 389.20,485.80 390.30,488.50 391.80,487.30 393.40,487.70 394.90,488.80 396.50,486.50 398.00,488.50 399.50,489.20 401.10,488.80 402.60,489.60 403.80,490.80 404.90,488.50 406.50,489.20 407.60,488.80 408.80,490.80 409.90,487.70 411.10,486.50 412.20,488.50 413.40,490.80 414.50,490.00 416.10,488.80 417.20,490.00 418.40,491.50 419.20,490.70 420.70,492.30 421.80,492.30 422.70,491.50 423.90,486.20 425.30,471.00 426.40,455.80 427.40,447.60 428.00,446.40 428.80,449.90 429.70,465.10 430.70,472.20 432.10,476.90 433.20,482.70 435.00,488.60 436.20,490.30 437.30,489.20 438.50,490.30 440.30,488.00 442.00,485.60 443.20,481.50 444.40,468.70 445.20,453.40 445.90,440.50 446.30,437.60 447.00,441.70 448.20,449.90 449.00,454.60 449.90,464.00 450.80,476.90 452.00,485.10 453.70,488.60 455.50,489.70 457.20,488.60 459.00,483.90 460.40,478.00 461.60,472.20 462.30,470.40 463.10,472.20 463.90,476.90 464.60,481.00 466.20,487.70 467.70,490.40 468.50,489.60 470.00,491.20 471.50,490.80 473.50,491.20 475.40,490.00 476.90,490.80 478.50,491.20 480.40,490.80 482.30,491.50 484.20,492.30" fill="none" stroke="#262626" stroke-width="1.1" stroke-linejoin="round"/>
<rect x="309.7" y="244.3" width="206.70" height="248.20" fill="none" stroke="#5a5a5a" stroke-width="1.3"/>
<line x1="309.70" y1="368.50" x2="516.40" y2="368.50" stroke="#5a5a5a" stroke-width="1.3"/>
</svg>
</body></html>
